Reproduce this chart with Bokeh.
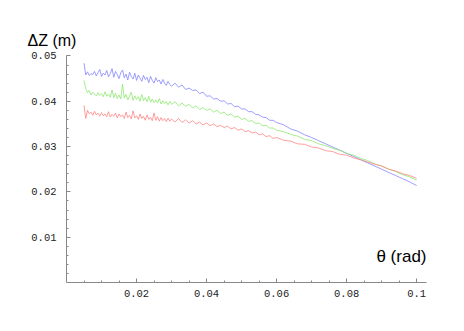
from bokeh.plotting import figure
from bokeh.models import Range1d, FixedTicker, Label
from bokeh.embed import file_html
from bokeh.resources import INLINE

# sample angles (rad): fine sampling at small angles, coarser later
theta = ([round(0.005 + 0.0005 * i, 4) for i in range(51)]
         + [round(0.031 + 0.001 * i, 3) for i in range(30)]
         + [round(0.062 + 0.002 * i, 3) for i in range(20)])

dz_blue = [0.0484, 0.0458, 0.0465, 0.0457, 0.0461, 0.0459, 0.0466, 0.0456, 0.0463, 0.0470,
           0.0455, 0.0462, 0.0458, 0.0468, 0.0454, 0.0461, 0.0472, 0.0453, 0.0466, 0.0459,
           0.0450, 0.0463, 0.0469, 0.0452, 0.0460, 0.0447, 0.0464, 0.0455, 0.0449, 0.0462,
           0.0446, 0.0458, 0.0451, 0.0444, 0.0457, 0.0448, 0.0453, 0.0441, 0.0455, 0.0446,
           0.0440, 0.0452, 0.0443, 0.0447, 0.0438, 0.0448, 0.0440, 0.0435, 0.0444, 0.0437,
           0.0433,
           0.0440, 0.0431, 0.0436, 0.0426, 0.0429, 0.0424, 0.0425, 0.0417, 0.0420, 0.0411,
           0.0412, 0.0405, 0.0406, 0.0400, 0.0401, 0.0394, 0.0395, 0.0388, 0.0389, 0.0383,
           0.0383, 0.0377, 0.0377, 0.0371, 0.0370, 0.0365, 0.0364, 0.0358, 0.0358, 0.0353,
           0.0348, 0.0339, 0.0334, 0.0326, 0.0320, 0.0313, 0.0306, 0.0299, 0.0292, 0.0285,
           0.0278, 0.0271, 0.0264, 0.0257, 0.0250, 0.0243, 0.0236, 0.0229, 0.0222, 0.0214]

dz_green = [0.0446, 0.0428, 0.0419, 0.0424, 0.0414, 0.0420, 0.0416, 0.0412, 0.0419, 0.0413,
            0.0417, 0.0410, 0.0421, 0.0411, 0.0416, 0.0409, 0.0425, 0.0408, 0.0418, 0.0406,
            0.0414, 0.0405, 0.0438, 0.0407, 0.0415, 0.0403, 0.0411, 0.0420, 0.0402, 0.0412,
            0.0404, 0.0410, 0.0400, 0.0415, 0.0401, 0.0408, 0.0399, 0.0411, 0.0398, 0.0405,
            0.0397, 0.0403, 0.0396, 0.0406, 0.0394, 0.0401, 0.0395, 0.0399, 0.0392, 0.0400,
            0.0393,
            0.0399, 0.0390, 0.0396, 0.0389, 0.0393, 0.0385, 0.0390, 0.0382, 0.0386, 0.0380,
            0.0383, 0.0376, 0.0380, 0.0373, 0.0376, 0.0369, 0.0372, 0.0365, 0.0367, 0.0360,
            0.0362, 0.0356, 0.0357, 0.0351, 0.0352, 0.0346, 0.0347, 0.0341, 0.0341, 0.0336,
            0.0333, 0.0327, 0.0323, 0.0316, 0.0313, 0.0306, 0.0302, 0.0296, 0.0292, 0.0285,
            0.0281, 0.0274, 0.0269, 0.0262, 0.0257, 0.0250, 0.0245, 0.0238, 0.0233, 0.0226]

dz_red = [0.0391, 0.0362, 0.0380, 0.0372, 0.0376, 0.0369, 0.0378, 0.0370, 0.0374, 0.0367,
          0.0375, 0.0368, 0.0372, 0.0366, 0.0377, 0.0365, 0.0371, 0.0367, 0.0374, 0.0363,
          0.0372, 0.0366, 0.0370, 0.0362, 0.0376, 0.0364, 0.0369, 0.0361, 0.0379, 0.0363,
          0.0368, 0.0360, 0.0372, 0.0362, 0.0367, 0.0358, 0.0370, 0.0360, 0.0365, 0.0357,
          0.0374, 0.0358, 0.0366, 0.0356, 0.0364, 0.0357, 0.0362, 0.0355, 0.0363, 0.0356,
          0.0361,
          0.0354, 0.0362, 0.0353, 0.0359, 0.0352, 0.0357, 0.0350, 0.0354, 0.0348, 0.0352,
          0.0346, 0.0350, 0.0344, 0.0347, 0.0342, 0.0345, 0.0339, 0.0342, 0.0336, 0.0339,
          0.0333, 0.0335, 0.0330, 0.0332, 0.0326, 0.0328, 0.0322, 0.0324, 0.0318, 0.0320,
          0.0314, 0.0312, 0.0306, 0.0305, 0.0299, 0.0297, 0.0291, 0.0289, 0.0283, 0.0281,
          0.0275, 0.0271, 0.0266, 0.0261, 0.0257, 0.0250, 0.0246, 0.0240, 0.0236, 0.0230]

x_ticks = [0.02, 0.04, 0.06, 0.08, 0.1]
x_minor = [0.005, 0.01, 0.015, 0.025, 0.03, 0.035, 0.045, 0.05, 0.055, 0.065, 0.07, 0.075,
           0.085, 0.09, 0.095]
y_ticks = [0.01, 0.02, 0.03, 0.04, 0.05]
y_minor = [0.002, 0.004, 0.006, 0.008, 0.012, 0.014, 0.016, 0.018, 0.022, 0.024, 0.026, 0.028,
           0.032, 0.034, 0.036, 0.038, 0.042, 0.044, 0.046, 0.048]

p = figure(width=456, height=323, output_backend="svg", toolbar_location=None,
           x_range=Range1d(0, 0.1028), y_range=Range1d(0, 0.0501),
           min_border_left=66, min_border_right=30, min_border_top=55, min_border_bottom=41)
p.outline_line_color = None
p.grid.visible = False
p.background_fill_color = "white"
p.border_fill_color = "white"

p.line(theta, dz_blue, line_color="#8585ff", line_width=0.8)
p.line(theta, dz_green, line_color="#8ee870", line_width=0.8)
p.line(theta, dz_red, line_color="#ff8585", line_width=0.8)

p.xaxis.ticker = FixedTicker(ticks=x_ticks, minor_ticks=x_minor)
p.yaxis.ticker = FixedTicker(ticks=y_ticks, minor_ticks=y_minor)
p.xaxis.major_label_overrides = {0.1: "0.1"}

for ax in (p.xaxis, p.yaxis):
    ax.axis_line_color = "#888888"
    ax.major_tick_line_color = "#888888"
    ax.minor_tick_line_color = "#888888"
    ax.major_tick_in = 4
    ax.major_tick_out = 0
    ax.minor_tick_in = 2
    ax.minor_tick_out = 0
    ax.major_label_text_font = "Liberation Mono"
    ax.major_label_text_font_size = "10.5px"
    ax.major_label_text_color = "#222222"
p.xaxis.major_label_standoff = 7
p.yaxis.major_label_standoff = 10

p.title.text = "ΔZ (m)"
p.title.text_font = "Liberation Sans"
p.title.text_font_size = "16px"
p.title.text_font_style = "normal"
p.title.text_color = "black"
p.title.align = "left"
p.title.offset = -39
p.title.standoff = 14

p.add_layout(Label(x=0.1028, y=0.0037, text="θ (rad)", text_font="Liberation Sans",
                   text_font_size="17px", text_color="black", text_align="right"))

open("out.html", "w").write(file_html(p, INLINE))
